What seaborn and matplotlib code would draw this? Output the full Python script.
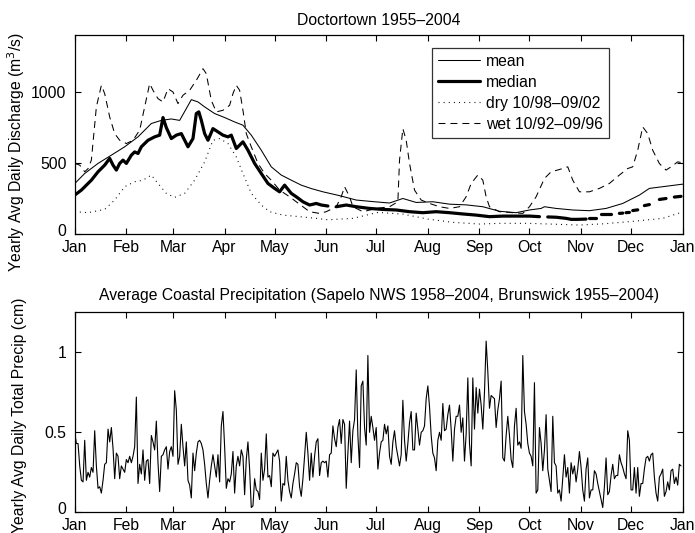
import numpy as np
import pandas as pd
import seaborn as sns
import matplotlib
matplotlib.use("Agg")
import matplotlib.pyplot as plt
import matplotlib.transforms as mtransforms
from matplotlib.lines import Line2D

# ---------------- data ----------------
month_ticks = [0, 31, 59, 90, 120, 151, 181, 212, 243, 273, 304, 334, 365]
month_labels = ['Jan', 'Feb', 'Mar', 'Apr', 'May', 'Jun', 'Jul', 'Aug', 'Sep',
                'Oct', 'Nov', 'Dec', 'Jan']

mean_day = [0, 6, 14, 22, 30, 38, 46, 52, 58, 63, 67, 70, 74, 78, 84, 90, 96, 101,
            106, 112, 118, 124, 130, 136, 142, 149, 159, 169, 179, 189, 197, 205,
            215, 225, 235, 245, 255, 265, 273, 280, 282, 289, 299, 309, 319, 329,
            339, 345, 353, 365]
mean_q = [355, 426, 497, 555, 614, 684, 778, 800, 810, 800, 883, 946, 930, 895,
          848, 820, 789, 766, 696, 590, 473, 415, 379, 344, 320, 297, 270, 239,
          228, 218, 250, 222, 227, 210, 205, 192, 160, 150, 169, 180, 192, 180,
          169, 164, 180, 215, 274, 321, 333, 351]

median_day = [0, 4, 10, 14, 18, 21, 23, 25, 27, 29, 31, 34, 36, 38, 40, 44, 48, 51,
              53, 55, 58, 61, 64, 68, 71, 73, 74.5, 76, 78, 80, 83, 86, 89, 92, 94,
              97, 101, 104, 108, 112, 116, 120, 123, 126, 130, 133, 137, 141, 145,
              148, 152, 154, 157, 163, 169, 177, 185, 193, 201, 209, 217, 225, 233,
              241, 249, 257, 265, 273, 279, 281, 284, 289, 295, 298, 302, 307, 308,
              309, 313, 314, 316, 322, 324, 327, 329, 330, 331, 333, 334, 335, 338,
              340, 342, 345, 348, 351, 355, 357, 360, 364]
median_q = [274, 309, 379, 438, 485, 532, 485, 450, 497, 520, 497, 555, 578, 567,
            614, 660, 684, 696, 820, 749, 672, 696, 707, 614, 672, 848, 860, 801,
            707, 660, 742, 719, 696, 684, 696, 602, 649, 590, 497, 426, 356, 321,
            297, 344, 286, 262, 227, 204, 215, 204, 197, np.nan, 192, 204, 192,
            180, 173, 169, 157, 150, 157, 150, 141, 133, 122, 126, 126, 126, 122,
            np.nan, 120, 118, 110, 103, 103, 105, np.nan, 115, 115, np.nan, 138,
            138, np.nan, 145, 147, np.nan, 150, 152, np.nan, 165, 170, np.nan, 200,
            207, np.nan, 243, 250, np.nan, 260, 265]

dry_day = [0, 8, 18, 24, 30, 36, 41, 46, 50, 55, 60, 66, 72, 78, 83, 87, 92, 97,
           101, 106, 112, 117, 125, 135, 145, 152, 167, 182, 197, 212, 227, 243,
           255, 273, 290, 303, 318, 333, 353, 365]
dry_q = [157, 150, 173, 239, 333, 368, 379, 415, 356, 286, 258, 286, 379, 508,
         660, 672, 637, 543, 426, 286, 204, 157, 133, 122, 110, 100, 110, 152, 140,
         105, 82, 70, 75, 75, 68, 63, 72, 87, 110, 155]

wet_day = [0, 3, 6, 8, 10, 13, 16, 18, 21, 24, 27, 31, 35, 39, 42, 45, 47, 50, 53,
           56, 59, 62, 65, 69, 73, 77, 79, 82, 85, 89, 93, 95, 97, 99, 101, 103,
           106, 110, 114, 118, 123, 129, 137, 141, 147, 151, 157, 160, 162, 165,
           167, 173, 181, 189, 194, 195, 197, 199, 201, 204, 208, 213, 219, 225,
           231, 235, 238, 242, 245, 247, 249, 255, 263, 269, 273, 277, 282, 286,
           291, 296, 299, 303, 309, 315, 321, 327, 332, 335, 338, 341, 344, 347,
           351, 355, 358, 362, 365]
wet_q = [497, 485, 438, 460, 520, 895, 1047, 988, 824, 707, 660, 637, 660, 731,
         895, 1059, 1012, 953, 930, 1023, 1000, 918, 977, 1012, 1082, 1164, 1129,
         941, 860, 871, 906, 988, 1047, 1012, 871, 707, 614, 497, 426, 379, 309,
         262, 192, 157, 145, 157, 192, 262, 333, 262, 192, 157, 180, 192, 227, 520,
         742, 660, 497, 309, 239, 215, 192, 180, 192, 262, 356, 415, 379, 262, 192,
         157, 150, 145, 192, 262, 391, 438, 454, 473, 379, 297, 297, 321, 356, 415,
         461, 473, 590, 754, 707, 590, 496, 450, 473, 508, 501]

precip = [
    0.50, 0.43, 0.43, 0.29, 0.20, 0.19, 0.45, 0.20, 0.25, 0.22, 0.28, 0.25, 0.51,
    0.29, 0.15, 0.16, 0.12, 0.20, 0.30, 0.31, 0.52, 0.44, 0.53, 0.40, 0.21, 0.37,
    0.35, 0.21, 0.29, 0.27, 0.25, 0.33, 0.31, 0.35, 0.31, 0.35, 0.41, 0.72, 0.18,
    0.30, 0.24, 0.39, 0.20, 0.32, 0.33, 0.18, 0.48, 0.44, 0.39, 0.57, 0.31, 0.13,
    0.35, 0.36, 0.39, 0.41, 0.27, 0.38, 0.41, 0.35, 0.76, 0.64, 0.30, 0.35, 0.55,
    0.41, 0.29, 0.44, 0.20, 0.17, 0.09, 0.37, 0.26, 0.37, 0.44, 0.45, 0.43, 0.39,
    0.30, 0.18, 0.09, 0.20, 0.29, 0.36, 0.29, 0.22, 0.36, 0.19, 0.54, 0.63, 0.41,
    0.15,
    0.21, 0.19, 0.24, 0.38, 0.12, 0.29, 0.35, 0.29, 0.39, 0.35, 0.11, 0.33, 0.44,
    0.27, 0.03, 0.04, 0.21, 0.14, 0.13, 0.08, 0.37, 0.20, 0.27, 0.49, 0.22, 0.23,
    0.16, 0.37, 0.35, 0.37, 0.39, 0.32, 0.07, 0.18, 0.17, 0.35, 0.20, 0.13, 0.09,
    0.18, 0.24, 0.31, 0.30, 0.16, 0.10, 0.21, 0.35, 0.50, 0.37, 0.20, 0.37, 0.22,
    0.35, 0.44, 0.46, 0.23, 0.31, 0.32, 0.31, 0.32, 0.22, 0.36, 0.37, 0.54, 0.46,
    0.41, 0.53, 0.58, 0.43, 0.58, 0.55, 0.15, 0.37, 0.57, 0.31, 0.51, 0.58, 0.89,
    0.48, 0.28, 0.79, 0.82, 0.53, 0.42, 0.98, 0.50, 0.60, 0.53, 0.45, 0.53, 0.27,
    0.37, 0.44, 0.45, 0.55, 0.49, 0.54, 0.35, 0.30, 0.44, 0.51, 0.41, 0.35, 0.29,
    0.36, 0.70, 0.45, 0.32, 0.43, 0.56, 0.63, 0.39, 0.39, 0.62, 0.52, 0.42, 0.50,
    0.51, 0.54, 0.71, 0.79, 0.66, 0.48, 0.37, 0.34, 0.26, 0.45, 0.50, 0.45, 0.68,
    0.51, 0.52, 0.61, 0.67, 0.52, 0.32, 0.52, 0.60, 0.60, 0.67, 0.50, 0.59, 0.32,
    0.49, 0.84, 0.43, 0.29, 0.84, 0.52, 0.78, 0.62, 0.77, 0.67, 0.52, 0.75, 1.07,
    0.88, 0.65, 0.73, 0.72, 0.71, 0.53, 0.64, 0.71, 0.82, 0.34, 0.32, 0.48, 0.60,
    0.48, 0.33, 0.28, 0.54, 0.65, 0.42, 0.44, 0.40, 0.98, 0.63, 0.55, 0.43,
    0.37, 0.35, 0.29, 0.81, 0.12, 0.14, 0.53, 0.43, 0.26, 0.39, 0.61, 0.27, 0.20,
    0.13, 0.60, 0.31, 0.29, 0.12, 0.14, 0.07, 0.22, 0.36, 0.22, 0.28, 0.12, 0.31,
    0.24, 0.29, 0.19, 0.27, 0.38, 0.28, 0.14, 0.07, 0.27, 0.34, 0.09, 0.14, 0.14,
    0.26, 0.24, 0.18, 0.13, 0.08, 0.03, 0.16, 0.34, 0.11, 0.13, 0.23, 0.30, 0.21,
    0.23, 0.23, 0.36, 0.31, 0.28, 0.24, 0.21, 0.51, 0.45, 0.14, 0.14, 0.28, 0.12,
    0.28, 0.10, 0.18, 0.18, 0.27, 0.34, 0.35, 0.32, 0.36, 0.37, 0.22, 0.12, 0.07,
    0.22, 0.24, 0.27, 0.10, 0.13, 0.19, 0.14, 0.26, 0.27, 0.18, 0.22, 0.17, 0.30,
    0.29,
]

legend_labels = ['mean', 'median', 'dry 10/98\u201309/02', 'wet 10/92\u201309/96']
title_top = 'Doctortown 1955\u20132004'
title_bottom = ('Average Coastal Precipitation (Sapelo NWS 1958\u20132004, '
                'Brunswick 1955\u20132004)')

# ---------------- style ----------------
FS = 11.3
sns.set_style('ticks')
plt.rcParams['font.family'] = ['Liberation Sans', 'DejaVu Sans']
plt.rcParams['font.size'] = FS
plt.rcParams['lines.scale_dashes'] = False
plt.rcParams['axes.linewidth'] = 0.9
plt.rcParams['xtick.direction'] = 'in'
plt.rcParams['ytick.direction'] = 'in'
plt.rcParams['xtick.top'] = True
plt.rcParams['ytick.right'] = True
plt.rcParams['xtick.major.size'] = 4
plt.rcParams['ytick.major.size'] = 4
plt.rcParams['xtick.major.width'] = 0.8
plt.rcParams['ytick.major.width'] = 0.8
plt.rcParams['axes.edgecolor'] = 'black'
plt.rcParams['xtick.color'] = 'black'
plt.rcParams['ytick.color'] = 'black'
plt.rcParams['text.color'] = 'black'
plt.rcParams['axes.labelcolor'] = 'black'

fig = plt.figure(figsize=(6.95, 5.33), dpi=100)
ax1 = fig.add_axes([0.1075, 0.561, 0.8748, 0.373])
ax2 = fig.add_axes([0.1075, 0.0388, 0.8748, 0.3753])

thin = 0.75
dash_ls = (0, (5.0, 3.6))
dot_ls = (0, (0.7, 3.0))

# top panel
sns.lineplot(x=dry_day, y=dry_q, ax=ax1, color='black', lw=0.8, linestyle=dot_ls)
sns.lineplot(x=wet_day, y=wet_q, ax=ax1, color='black', lw=thin, linestyle=dash_ls)
sns.lineplot(x=mean_day, y=mean_q, ax=ax1, color='black', lw=thin)

med = pd.DataFrame({'day': median_day, 'q': median_q})
med['seg'] = med['q'].isna().cumsum()
med = med.dropna()
sns.lineplot(data=med, x='day', y='q', units='seg', estimator=None, ax=ax1,
             color='black', lw=2.3)

ax1.set_xlim(0, 365)
ax1.set_ylim(0, 1400)
ax1.set_yticks([0, 500, 1000])
ax1.set_xticks(month_ticks)
ax1.set_xticklabels(month_labels)
ax1.set_xlabel('')
ax1.set_ylabel('Yearly Avg Daily Discharge (m$^3$/s)')
ax1.yaxis.set_label_coords(-0.078, 0.41)
ax1.set_title(title_top, fontsize=FS, pad=7)
ax1.tick_params(axis='x', pad=4)
ax1.tick_params(axis='y', pad=6)

handles = [Line2D([], [], color='black', lw=thin),
           Line2D([], [], color='black', lw=2.3),
           Line2D([], [], color='black', lw=0.8, linestyle=dot_ls),
           Line2D([], [], color='black', lw=thin, linestyle=dash_ls)]
leg = ax1.legend(handles, legend_labels, loc='upper right',
                 bbox_to_anchor=(0.879, 0.938), borderaxespad=0,
                 frameon=True, fancybox=False, edgecolor='black',
                 handlelength=2.7, handletextpad=0.35, labelspacing=0.38,
                 borderpad=0.4, fontsize=FS)
leg.get_frame().set_linewidth(0.9)

# bottom panel
precip_day = np.arange(len(precip))
sns.lineplot(x=precip_day, y=precip, ax=ax2, color='black', lw=0.8)
ax2.set_xlim(0, 365)
ax2.set_ylim(0, 1.25)
ax2.set_yticks([0, 0.5, 1])
ax2.set_yticklabels(['0', '0.5', '1'])
ax2.set_xticks(month_ticks)
ax2.set_xticklabels(month_labels)
ax2.set_xlabel('')
ax2.set_ylabel('Yearly Avg Daily Total Precip (cm)')
ax2.yaxis.set_label_coords(-0.078, 0.487)
ax2.set_title(title_bottom, fontsize=FS, pad=9)
ax2.tick_params(axis='x', pad=4)
ax2.tick_params(axis='y', pad=6)

# lift the "0" y tick labels slightly so they sit just above the month labels
lift = mtransforms.ScaledTranslation(0, 4 / 100, fig.dpi_scale_trans)
for ax in (ax1, ax2):
    zero_lbl = ax.get_yticklabels()[0]
    zero_lbl.set_transform(zero_lbl.get_transform() + lift)

fig.savefig('out.png', dpi=100)
